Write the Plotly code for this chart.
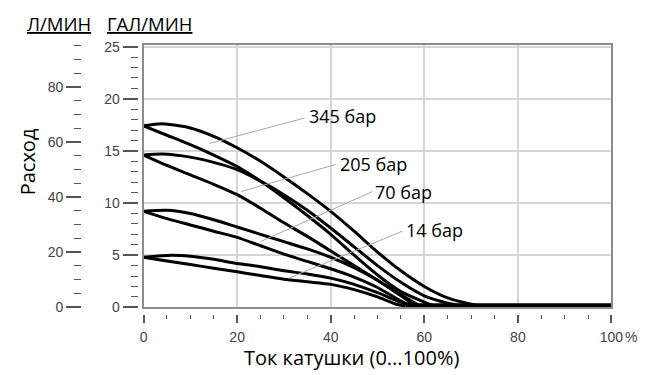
import plotly.graph_objects as go

# ---- data (gal/min vs coil current %) ----
x345_up = [0, 4, 10, 15, 20, 25, 30, 35, 40, 45, 50, 55, 60, 65, 70, 72]
y345_up = [17.4, 17.6, 17.2, 16.4, 15.3, 14.0, 12.5, 10.9, 9.2, 7.3, 5.3, 3.5, 2.0, 0.9, 0.3, 0.15]
x345_dn = [0, 5, 10, 15, 20, 25, 30, 35, 40, 45, 50, 55, 60, 62]
y345_dn = [17.4, 16.5, 15.6, 14.6, 13.5, 12.1, 10.5, 8.8, 7.0, 5.0, 3.1, 1.5, 0.5, 0.15]
x205_up = [0, 4, 10, 15, 20, 25, 30, 35, 40, 45, 50, 55, 60, 65, 68]
y205_up = [14.6, 14.7, 14.4, 13.9, 13.2, 12.1, 10.8, 9.3, 7.6, 5.8, 4.0, 2.4, 1.1, 0.4, 0.15]
x205_dn = [0, 5, 10, 15, 20, 25, 30, 35, 40, 45, 50, 55, 58]
y205_dn = [14.6, 13.6, 12.7, 11.8, 10.8, 9.5, 8.1, 6.8, 5.4, 4.0, 2.6, 1.1, 0.15]
x70_up = [0, 5, 10, 15, 20, 25, 30, 35, 40, 45, 50, 55, 59]
y70_up = [9.2, 9.3, 9.0, 8.4, 7.7, 7.0, 6.3, 5.6, 4.8, 3.8, 2.6, 1.2, 0.15]
x70_dn = [0, 5, 10, 15, 20, 25, 30, 35, 40, 45, 50, 55, 57]
y70_dn = [9.2, 8.5, 7.9, 7.3, 6.7, 5.9, 5.1, 4.4, 3.7, 2.9, 1.9, 0.6, 0.15]
x14_up = [0, 6, 10, 15, 20, 25, 30, 35, 40, 45, 50, 55, 58]
y14_up = [4.8, 5.0, 4.9, 4.6, 4.2, 3.9, 3.5, 3.2, 2.8, 2.2, 1.4, 0.5, 0.15]
x14_dn = [0, 5, 10, 15, 20, 25, 30, 35, 40, 45, 50, 54, 56]
y14_dn = [4.8, 4.45, 4.1, 3.75, 3.4, 3.05, 2.7, 2.45, 2.2, 1.7, 1.0, 0.3, 0.15]
x_base = [56, 100]
y_base = [0.15, 0.15]

# labels and leader lines
lab_text = ["345 бар", "205 бар", "70 бар", "14 бар"]
lead_x0 = [14.0, 20.9, 25.0, 31.1]
lead_y0 = [15.7, 11.1, 6.3, 2.8]
lead_x1 = [34.4, 41.1, 48.9, 55.3]
lead_y1 = [18.15, 13.7, 11.1, 7.3]
lab_x = [34.9, 41.6, 49.1, 55.6]
lab_y = [18.3, 13.7, 11.1, 7.4]

GAL_MAX = 25.2
L_PER_GAL = 3.7854

x_ticks = [0, 20, 40, 60, 80, 100]
gal_ticks = [0, 5, 10, 15, 20, 25]
l_ticks = [0, 20, 40, 60, 80]

fig = go.Figure()

branches = [(x345_up, y345_up), (x345_dn, y345_dn), (x205_up, y205_up), (x205_dn, y205_dn),
            (x70_up, y70_up), (x70_dn, y70_dn), (x14_up, y14_up), (x14_dn, y14_dn)]
for bx, by in branches:
    fig.add_trace(go.Scatter(x=bx, y=by, mode="lines",
                             line=dict(color="black", width=3, shape="spline", smoothing=0.7),
                             hoverinfo="skip", showlegend=False))
fig.add_trace(go.Scatter(x=x_base, y=y_base, mode="lines", line=dict(color="black", width=5),
                         hoverinfo="skip", showlegend=False))

for i in range(len(lab_text)):
    fig.add_trace(go.Scatter(x=[lead_x0[i], lead_x1[i]], y=[lead_y0[i], lead_y1[i]], mode="lines",
                             line=dict(color="#a8a8a8", width=1), hoverinfo="skip", showlegend=False))
    fig.add_annotation(x=lab_x[i], y=lab_y[i], text=lab_text[i], showarrow=False,
                       xanchor="left", yanchor="middle",
                       font=dict(family="Open Sans", size=18, color="black"))

# invisible traces to register secondary axes
fig.add_trace(go.Scatter(x=[0], y=[0], xaxis="x2", yaxis="y", mode="markers",
                         marker=dict(opacity=0), hoverinfo="skip", showlegend=False))
fig.add_trace(go.Scatter(x=[0], y=[0], xaxis="x", yaxis="y2", mode="markers",
                         marker=dict(opacity=0), hoverinfo="skip", showlegend=False))
fig.add_trace(go.Scatter(x=[0], y=[0], xaxis="x", yaxis="y3", mode="markers",
                         marker=dict(opacity=0), hoverinfo="skip", showlegend=False))

W, H = 662, 375
xdom = [143 / W, 622.5 / W]
ydom = [1 - 313 / H, 1 - 40 / H]
tickfont = dict(family="Liberation Sans", size=14, color="#444")
tc = "#555"

fig.update_layout(
    width=W, height=H, margin=dict(l=0, r=0, t=0, b=0),
    paper_bgcolor="white", plot_bgcolor="white",
    xaxis=dict(domain=xdom, range=[0, 100], showticklabels=False, ticks="",
               showgrid=True, gridcolor="#d6d6d6", gridwidth=1.5, tickvals=x_ticks,
               showline=True, linecolor="#8c8c8c", linewidth=2, mirror=True, zeroline=False),
    yaxis=dict(domain=ydom, range=[0, GAL_MAX], showticklabels=False, ticks="",
               showgrid=True, gridcolor="#d6d6d6", gridwidth=1.5, tickvals=gal_ticks,
               showline=True, linecolor="#8c8c8c", linewidth=2, mirror=True, zeroline=False),
    xaxis2=dict(overlaying="x", anchor="free", position=1 - 320 / H, range=[0, 100],
                tickvals=x_ticks, ticks="outside", ticklen=8, tickwidth=1.5, tickcolor=tc,
                ticklabelstandoff=2,
                showgrid=False, showline=False, zeroline=False, tickfont=tickfont,
                minor=dict(dtick=5, ticks="outside", ticklen=4, tickwidth=1.2, tickcolor=tc, showgrid=False)),
    yaxis2=dict(overlaying="y", anchor="free", position=137 / W, side="left", range=[0, GAL_MAX],
                tickvals=gal_ticks, ticks="outside", ticklen=15, tickwidth=1.5, tickcolor=tc,
                showgrid=False, showline=False, zeroline=False, tickfont=tickfont,
                minor=dict(dtick=1, ticks="outside", ticklen=7, tickwidth=1.2, tickcolor=tc, showgrid=False)),
    yaxis3=dict(overlaying="y", anchor="free", position=79 / W, side="left",
                range=[0, GAL_MAX * L_PER_GAL],
                tickvals=l_ticks, ticks="outside", ticklen=15, tickwidth=1.5, tickcolor=tc,
                showgrid=False, showline=False, zeroline=False, tickfont=tickfont,
                minor=dict(dtick=5, ticks="outside", ticklen=7, tickwidth=1.2, tickcolor=tc, showgrid=False)),
)

tfont = dict(family="Open Sans", size=18.5, color="black")
fig.add_annotation(xref="paper", yref="paper", x=22 / W, y=1 - 18 / H, text="<u>Л/МИН</u>",
                   showarrow=False, xanchor="left", yanchor="middle", font=tfont)
fig.add_annotation(xref="paper", yref="paper", x=103 / W, y=1 - 18 / H, text="<u>ГАЛ/МИН</u>",
                   showarrow=False, xanchor="left", yanchor="middle", font=tfont)
fig.add_annotation(xref="paper", yref="paper", x=25 / W, y=1 - 162 / H, text="Расход",
                   textangle=-90, showarrow=False, xanchor="center", yanchor="middle",
                   font=dict(family="Open Sans", size=20, color="black"))
fig.add_annotation(xref="paper", yref="paper", x=356 / W, y=1 - 365 / H, text="Ток катушки (0...100%)",
                   showarrow=False, xanchor="center", yanchor="middle",
                   font=dict(family="Open Sans", size=20, color="black"))
fig.add_annotation(xref="paper", yref="paper", x=634 / W, y=1 - 333 / H, text="%",
                   showarrow=False, xanchor="left", yanchor="top", font=tickfont)

fig.write_html("out.html")
